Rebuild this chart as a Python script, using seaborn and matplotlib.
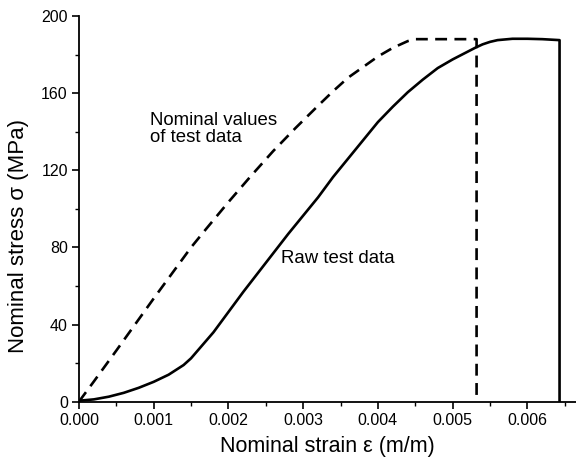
import matplotlib
matplotlib.use("Agg")
import matplotlib.pyplot as plt
from matplotlib.ticker import MultipleLocator, FormatStrFormatter
import seaborn as sns
import pandas as pd

raw_strain = [0.0, 0.0002, 0.0004, 0.0006, 0.0008, 0.0010, 0.0012, 0.0014, 0.0015, 0.0016,
              0.0018, 0.0020, 0.0022, 0.0024, 0.0026, 0.0028, 0.0030, 0.0032, 0.0034, 0.0036,
              0.0038, 0.0040, 0.0042, 0.0044, 0.0046, 0.0048, 0.0050, 0.0052, 0.0053, 0.0054,
              0.0055, 0.0056, 0.0058, 0.0060, 0.0062, 0.00643, 0.00643]
raw_stress = [0.5, 1.2, 2.6, 4.6, 7.2, 10.3, 14.0, 19.0, 22.5, 27.0,
              36.0, 46.5, 57.0, 67.0, 77.0, 87.0, 96.5, 106.0, 116.5, 126.0,
              135.5, 145.0, 153.0, 160.5, 167.0, 173.0, 177.5, 181.5, 183.5, 185.3,
              186.6, 187.5, 188.2, 188.2, 188.0, 187.5, 0.0]

nom_strain = [0.0, 0.0002, 0.0005, 0.0010, 0.0015, 0.0017, 0.0020, 0.0023, 0.0026, 0.0029,
              0.0032, 0.0034, 0.0036, 0.0038, 0.0040, 0.0042, 0.0044, 0.0045, 0.00532, 0.00532]
nom_stress = [0.0, 10.5, 26.5, 53.5, 80.0, 89.5, 103.5, 117.0, 130.0, 142.0,
              153.5, 161.0, 168.0, 173.5, 179.0, 183.5, 187.0, 188.0, 188.0, 2.0]

x_label = "Nominal strain \u03b5 (m/m)"
y_label = "Nominal stress \u03c3 (MPa)"
label_nominal = "Nominal values\nof test data"
label_raw = "Raw test data"

sns.set_theme(style="ticks")
plt.rcParams['font.family'] = ['Liberation Sans', 'DejaVu Sans']
plt.rcParams['text.color'] = 'black'
plt.rcParams['axes.labelcolor'] = 'black'

fig = plt.figure(figsize=(5.76, 4.63), dpi=100)
ax = fig.add_axes([0.137, 0.1324, 0.863, 0.833])

df_raw = pd.DataFrame({"strain": raw_strain, "stress": raw_stress})
df_nom = pd.DataFrame({"strain": nom_strain, "stress": nom_stress})

sns.lineplot(data=df_raw, x="strain", y="stress", sort=False, estimator=None,
             color="black", lw=1.9, ax=ax)
sns.lineplot(data=df_nom, x="strain", y="stress", sort=False, estimator=None,
             color="black", lw=1.9, ax=ax, linestyle=(0, (4.5, 2.8)))

ax.set_xlim(0, 0.00665)
ax.set_ylim(0, 200)
ax.xaxis.set_major_locator(MultipleLocator(0.001))
ax.xaxis.set_minor_locator(MultipleLocator(0.0005))
ax.yaxis.set_major_locator(MultipleLocator(40))
ax.yaxis.set_minor_locator(MultipleLocator(20))
ax.xaxis.set_major_formatter(FormatStrFormatter("%.3f"))

for s in ["top", "right"]:
    ax.spines[s].set_visible(False)
for s in ["left", "bottom"]:
    ax.spines[s].set_linewidth(1.3)
    ax.spines[s].set_color("black")

ax.tick_params(which="major", direction="out", length=5, width=1.2, labelsize=11.5,
               colors="black", labelcolor="black", pad=3)
ax.tick_params(which="minor", direction="out", length=3, width=1.0, colors="black")

ax.set_xlabel(x_label, fontsize=15.5, labelpad=6, color="black")
ax.set_ylabel(y_label, fontsize=16, color="black")
ax.yaxis.set_label_coords(-0.100, 0.43)

ax.text(0.00095, 150, label_nominal, fontsize=13.4, ha="left", va="top", linespacing=1.0, color="black")
ax.text(0.00271, 74, label_raw, fontsize=13.4, ha="left", va="center", color="black")

fig.savefig("out.png", dpi=100)
